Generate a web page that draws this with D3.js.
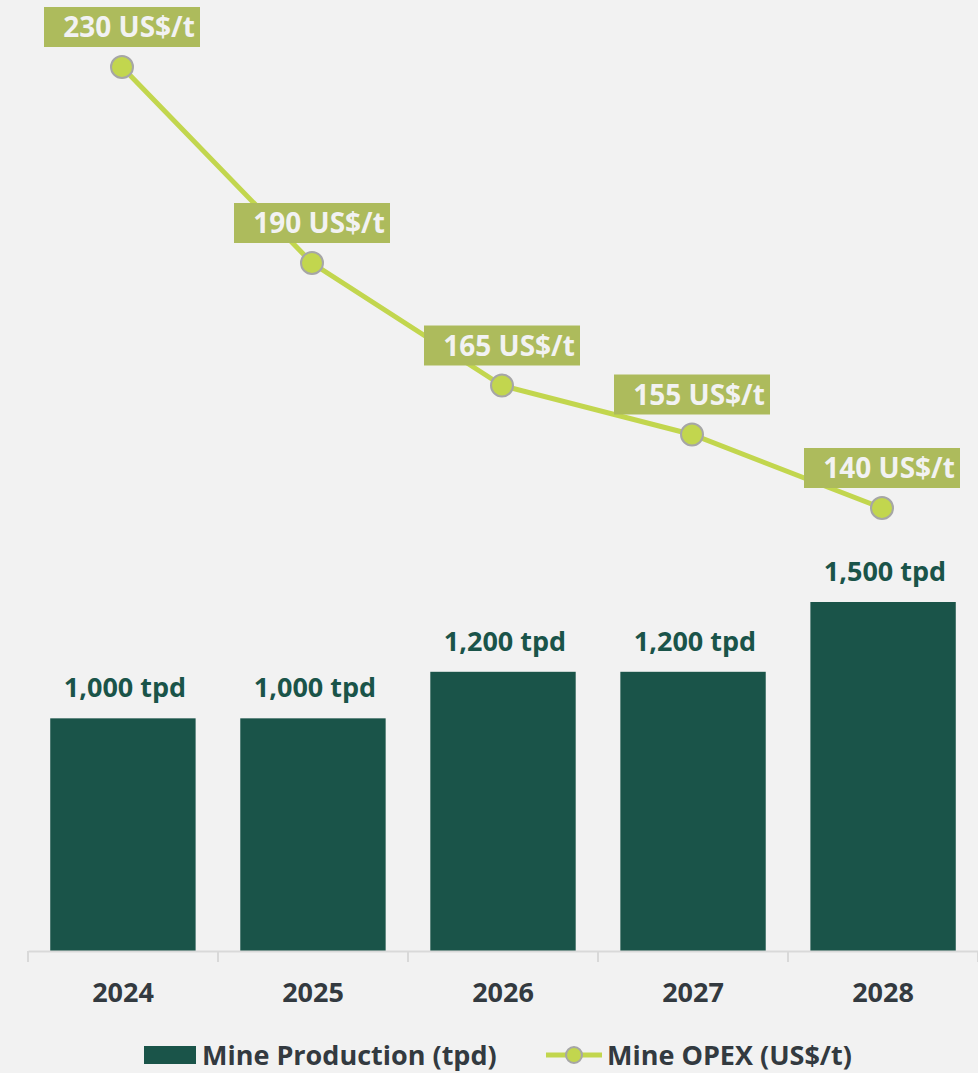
<!DOCTYPE html>
<html>
<head>
<meta charset="utf-8">
<script src="https://cdn.jsdelivr.net/npm/d3@7"></script>
<style>
  body { margin: 0; background: #f2f2f2; }
  svg { display: block; font-family: "Open Sans", "Noto Sans", sans-serif; }
</style>
</head>
<body>
<div id="chart"></div>
<script>
(function() {

var years = ["2024", "2025", "2026", "2027", "2028"];
var production = [1000, 1000, 1200, 1200, 1500];   // tpd
var opex = [230, 190, 165, 155, 140];              // US$/t

var width = 978, height = 1073;

var svg = d3.select("#chart").append("svg")
    .attr("width", width)
    .attr("height", height);

svg.append("rect")
    .attr("width", width).attr("height", height)
    .attr("fill", "#f2f2f2");

var x = d3.scaleBand()
    .domain(years)
    .range([28, 978])
    .paddingInner(0.235)
    .paddingOuter(0.117);

var band = d3.scaleBand().domain(years).range([28, 978]);

var y = d3.scaleLinear()
    .domain([0, 1500])
    .range([951, 602]);

var y2 = d3.scaleLinear()
    .domain([140, 230])
    .range([508, 67]);

var barColor = "#1a5449",
    lineColor = "#c2d64e",
    tagColor = "#adbb5c",
    textColor = "#333a40";

// bars
svg.selectAll(".bar")
    .data(years)
  .enter().append("rect")
    .attr("class", "bar")
    .attr("x", function(d) { return x(d); })
    .attr("width", x.bandwidth())
    .attr("y", function(d, i) { return y(production[i]); })
    .attr("height", function(d, i) { return y(0) - y(production[i]); })
    .attr("fill", barColor);

svg.selectAll(".barLabel")
    .data(years)
  .enter().append("text")
    .attr("class", "barLabel")
    .attr("x", function(d) { return band(d) + band.bandwidth() / 2 + 2; })
    .attr("y", function(d, i) { return y(production[i]) - 21; })
    .attr("text-anchor", "middle")
    .attr("font-size", 27)
    .attr("font-weight", "bold")
    .attr("fill", barColor)
    .text(function(d, i) { return d3.format(",")(production[i]) + " tpd"; });

// x axis
var axis = svg.append("g")
    .attr("transform", "translate(0,951)")
    .call(d3.axisBottom(band).tickSize(0).tickPadding(32));
axis.select(".domain").attr("stroke", "#d9d9d9").attr("stroke-width", 2);
axis.selectAll(".tick text")
    .attr("font-size", 27)
    .attr("font-weight", "bold")
    .attr("fill", textColor)
    .attr("font-family", "'Open Sans', sans-serif");
axis.selectAll(".edge")
    .data(years.concat(["end"]))
  .enter().append("line")
    .attr("x1", function(d, i) { return i < years.length ? band(d) : band.range()[1]; })
    .attr("x2", function(d, i) { return i < years.length ? band(d) : band.range()[1]; })
    .attr("y1", 0).attr("y2", 11)
    .attr("stroke", "#d9d9d9").attr("stroke-width", 2);

// line
var cx = function(i) { return band(years[i]) + band.bandwidth() / 2 - 1; };

svg.append("path")
    .datum(opex)
    .attr("fill", "none")
    .attr("stroke", lineColor)
    .attr("stroke-width", 5)
    .attr("d", d3.line()
      .x(function(d, i) { return cx(i); })
      .y(function(d) { return y2(d); }));

svg.selectAll(".dot")
    .data(opex)
  .enter().append("circle")
    .attr("class", "dot")
    .attr("cx", function(d, i) { return cx(i); })
    .attr("cy", function(d) { return y2(d); })
    .attr("r", 11)
    .attr("fill", lineColor)
    .attr("stroke", "#a6a6a6")
    .attr("stroke-width", 2);

var tags = svg.selectAll(".tag")
    .data(opex)
  .enter().append("g")
    .attr("class", "tag")
    .attr("transform", function(d, i) { return "translate(" + cx(i) + "," + (y2(d) - 40) + ")"; });

tags.append("rect")
    .attr("x", -78).attr("y", -20)
    .attr("width", 156).attr("height", 40)
    .attr("fill", tagColor);

tags.append("text")
    .attr("x", 7)
    .attr("y", 10)
    .attr("text-anchor", "middle")
    .attr("font-size", 28)
    .attr("font-weight", "bold")
    .attr("fill", "#f2f2f2")
    .text(function(d) { return d + " US$/t"; });

// legend
var leg = svg.append("g").attr("transform", "translate(0,1055)");
leg.append("rect")
    .attr("x", 144).attr("y", -9).attr("width", 52).attr("height", 18)
    .attr("fill", barColor);
leg.append("text")
    .attr("x", 202).attr("y", 10)
    .attr("font-size", 27).attr("font-weight", "bold").attr("fill", textColor)
    .text("Mine Production (tpd)");
leg.append("line")
    .attr("x1", 546).attr("x2", 602).attr("y1", 0).attr("y2", 0)
    .attr("stroke", lineColor).attr("stroke-width", 5);
leg.append("circle")
    .attr("cx", 574).attr("cy", 0).attr("r", 8)
    .attr("fill", lineColor).attr("stroke", "#a6a6a6").attr("stroke-width", 2);
leg.append("text")
    .attr("x", 607).attr("y", 10)
    .attr("font-size", 27).attr("font-weight", "bold").attr("fill", textColor)
    .text("Mine OPEX (US$/t)");

})();
</script>
</body>
</html>
